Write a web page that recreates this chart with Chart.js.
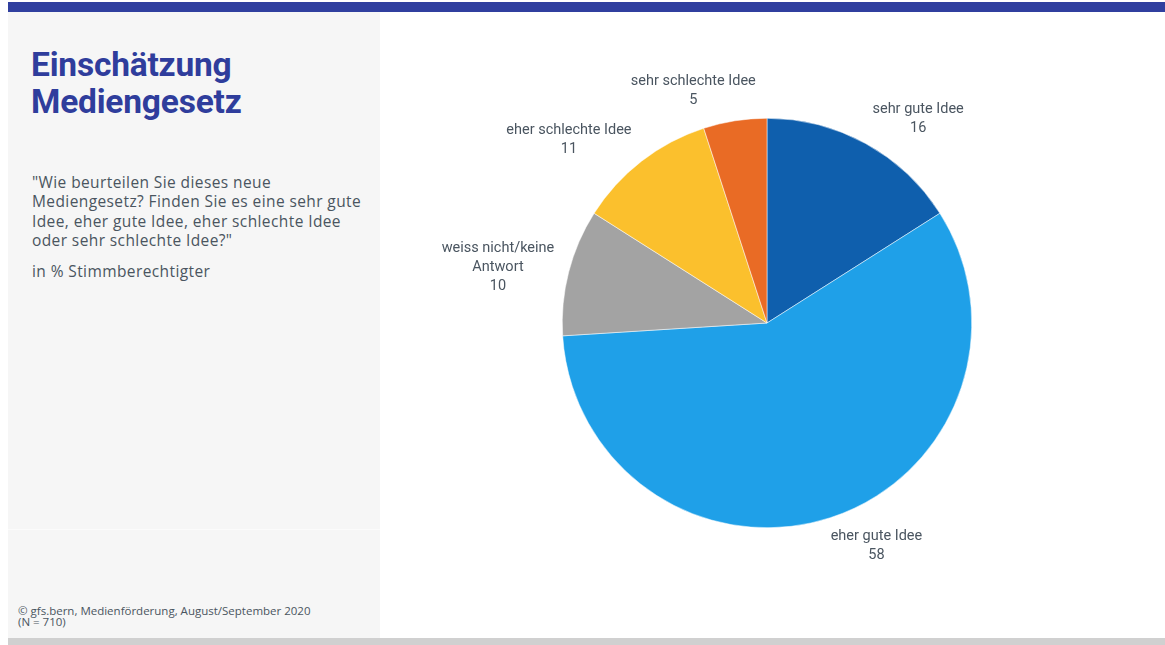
<!DOCTYPE html>
<html><head><meta charset="utf-8">
<script src="https://cdn.jsdelivr.net/npm/chart.js@4"></script>
<style>
html,body{margin:0;padding:0;background:#fff;width:1165px;height:645px;overflow:hidden;font-family:"Open Sans",Roboto,sans-serif;}
#topbar{position:absolute;left:8px;top:2px;width:1157px;height:10px;background:#303f9f;}
#panel{position:absolute;left:8px;top:12px;width:372px;height:626px;background:#f6f6f6;}
#sep{position:absolute;left:8px;top:529px;width:372px;height:1px;background:#fbfbfb;}
#bottombar{position:absolute;left:8px;top:638px;width:1157px;height:7px;background:#d0d0d0;}
#title{position:absolute;left:31px;top:46px;font-family:Roboto,sans-serif;font-size:33.5px;font-weight:bold;line-height:37px;color:#2f3d9c;letter-spacing:-0.2px;}
#question{position:absolute;left:32px;top:173px;font-size:15.5px;line-height:19.3px;color:#4a5560;white-space:nowrap;letter-spacing:0.4px;}
#unit{position:absolute;left:32px;top:260px;font-size:15.5px;color:#4a5560;letter-spacing:0.4px;}
#source{position:absolute;left:18px;top:605px;font-size:11.5px;line-height:11px;color:#4a5560;}
#wrap{position:absolute;left:417px;top:23px;width:700px;height:600px;}
</style></head><body>
<div id="topbar"></div>
<div id="panel"></div>
<div id="sep"></div>
<div id="bottombar"></div>
<div id="title">Einschätzung<br>Mediengesetz</div>
<div id="question">"Wie beurteilen Sie dieses neue<br>Mediengesetz? Finden Sie es eine sehr gute<br>Idee, eher gute Idee, eher schlechte Idee<br>oder sehr schlechte Idee?"</div>
<div id="unit">in % Stimmberechtigter</div>
<div id="source">© gfs.bern, Medienförderung, August/September 2020<br>(N = 710)</div>
<div id="wrap"><canvas id="c" width="700" height="600"></canvas></div>
<script>
const categories = ["sehr gute Idee", "eher gute Idee", "weiss nicht/keine Antwort", "eher schlechte Idee", "sehr schlechte Idee"];
const labelLines = [["sehr gute Idee"], ["eher gute Idee"], ["weiss nicht/keine", "Antwort"], ["eher schlechte Idee"], ["sehr schlechte Idee"]];
const values = [16, 58, 10, 11, 5];
const colors = ["#0f5fad", "#1fa0e8", "#a3a3a3", "#fbc02d", "#e96b25"];

const outLabels = {
  id: 'outLabels',
  afterDatasetsDraw(chart) {
    const ctx = chart.ctx;
    const meta = chart.getDatasetMeta(0);
    ctx.save();
    ctx.font = '14.5px Roboto, sans-serif';
    ctx.fillStyle = '#4a5560';
    ctx.textAlign = 'center';
    ctx.textBaseline = 'middle';
    const lh = 19;
    meta.data.forEach((arc, i) => {
      const mid = (arc.startAngle + arc.endAngle) / 2;
      const dx = Math.cos(mid), dy = Math.sin(mid);
      const lines = labelLines[i].concat([String(values[i])]);
      const w = Math.max(...lines.map(l => ctx.measureText(l).width));
      const h = lines.length * lh;
      const r = arc.outerRadius + 12;
      const px = arc.x + dx * r, py = arc.y + dy * r;
      const fx = Math.tanh(4.5 * dx) * 1.05;
      const fy = Math.sign(dy) * dy * dy;
      const cx = px + fx * w / 2;
      const cy = py + fy * h / 2;
      lines.forEach((l, k) => {
        ctx.fillText(l, cx, cy - h / 2 + lh / 2 + k * lh);
      });
    });
    ctx.restore();
  }
};

new Chart(document.getElementById('c'), {
  type: 'pie',
  data: {
    labels: categories,
    datasets: [{ data: values, backgroundColor: colors, borderColor: '#ffffff', borderWidth: 0.5 }]
  },
  options: {
    responsive: false,
    animation: false,
    layout: { padding: { left: 145, right: 145, top: 95, bottom: 95 } },
    plugins: { legend: { display: false }, tooltip: { enabled: false } }
  },
  plugins: [outLabels]
});
</script>
</body></html>
